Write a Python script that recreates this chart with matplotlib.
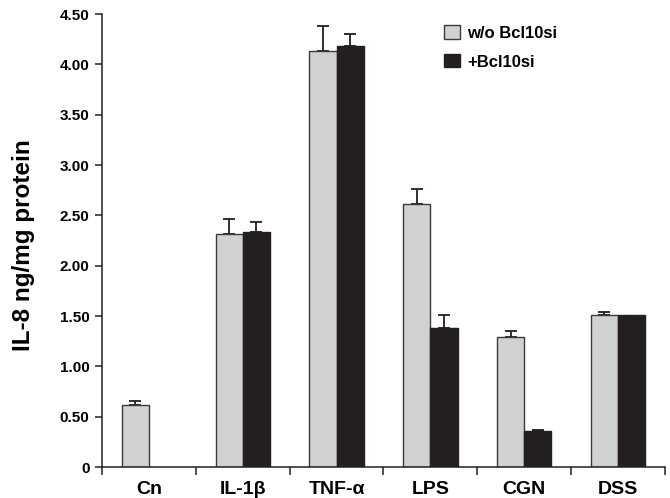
import numpy as np
import matplotlib
matplotlib.use('Agg')
import matplotlib.pyplot as plt
from matplotlib.patches import Patch
from matplotlib.ticker import FixedLocator, FuncFormatter

plt.rcParams['font.family'] = ['Liberation Sans', 'DejaVu Sans']
plt.rcParams['font.weight'] = 'bold'

categories = ['Cn', 'IL-1\u03b2', 'TNF-\u03b1', 'LPS', 'CGN', 'DSS']
without_si = [0.62, 2.31, 4.13, 2.61, 1.29, 1.51]
without_err = [0.04, 0.15, 0.25, 0.15, 0.06, 0.03]
with_si = [np.nan, 2.33, 4.18, 1.38, 0.36, 1.51]
with_err = [np.nan, 0.10, 0.12, 0.13, 0.01, np.nan]
labels = ['w/o Bcl10si', '+Bcl10si']

gray = '#d0d1d3'
dark = '#231f20'

fig = plt.figure(figsize=(6.7, 4.98), dpi=100)
ax = fig.add_axes([0.1522, 0.0622, 0.8403, 0.9096])

x = np.arange(len(categories))
w = 0.29
v1 = np.array(without_si)
v2 = np.array(with_si)
e1 = np.array(without_err)
e2 = np.array(with_err)

ax.bar(x - w / 2, v1, w, color=gray, edgecolor='#3a3a3a', linewidth=1.0, zorder=2)
m2 = ~np.isnan(v2)
ax.bar(x[m2] + w / 2, v2[m2], w, color=dark, edgecolor=dark, linewidth=1.0, zorder=2)

# error bars only upward
ax.errorbar(x - w / 2, v1, yerr=[np.zeros_like(e1), e1], fmt='none',
            ecolor=dark, elinewidth=1.3, capsize=4.5, capthick=1.3, zorder=1)
me = ~np.isnan(e2)
ax.errorbar(x[me] + w / 2, v2[me], yerr=[np.zeros(me.sum()), e2[me]], fmt='none',
            ecolor=dark, elinewidth=1.3, capsize=4.5, capthick=1.3, zorder=1)

ax.set_xlim(-0.5, 5.5)
ax.set_ylim(0, 4.5)
ax.set_yticks(np.arange(0, 4.51, 0.5))
ax.yaxis.set_major_formatter(FuncFormatter(lambda v, p: '0' if v == 0 else '%.2f' % v))
ax.set_xticks(x)
ax.set_xticklabels(categories, fontsize=14, fontweight='bold')
# ticks between the groups
ax.xaxis.set_minor_locator(FixedLocator(np.arange(-0.5, 5.6, 1.0)))
ax.tick_params(axis='x', which='major', length=0, pad=10)
ax.tick_params(axis='x', which='minor', length=5.5, width=1.1, color=dark, direction='out')
ax.tick_params(axis='y', length=5, width=1.1, color=dark, labelsize=11, pad=4)
for t in ax.get_yticklabels():
    t.set_fontweight('bold')

for s in ['top', 'right']:
    ax.spines[s].set_visible(False)
for s in ['left', 'bottom']:
    ax.spines[s].set_linewidth(1.1)
    ax.spines[s].set_color(dark)

ax.set_ylabel('IL-8 ng/mg protein', fontsize=17.5, fontweight='bold', va='center')
ax.yaxis.set_label_coords(-0.14, 0.49)

handles = [Patch(facecolor=gray, edgecolor='#3a3a3a', linewidth=1.0),
           Patch(facecolor=dark, edgecolor=dark, linewidth=1.0)]
ax.legend(handles, labels, loc='upper left', bbox_to_anchor=(0.608, 0.975),
          frameon=False, handlelength=0.95, handleheight=0.85,
          handletextpad=0.4, labelspacing=0.8, borderpad=0, borderaxespad=0,
          prop={'weight': 'bold', 'size': 12})

fig.savefig('out.png', dpi=100)
